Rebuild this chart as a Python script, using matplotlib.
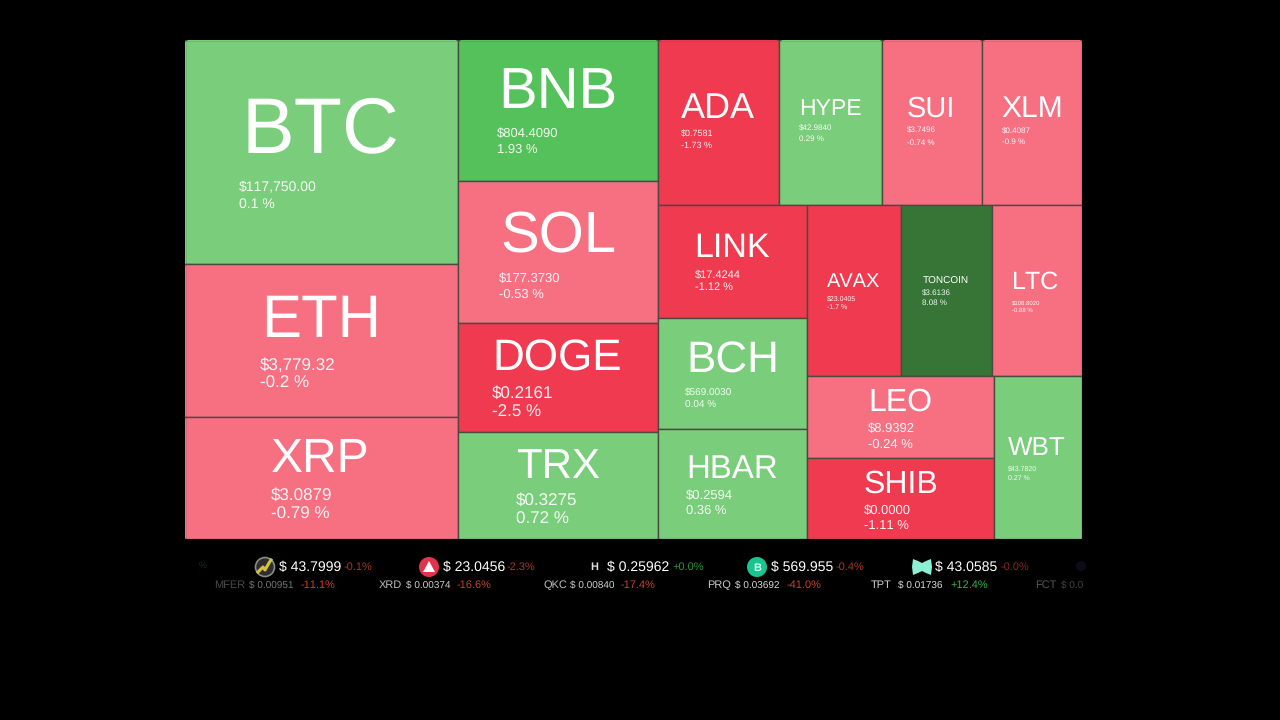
import matplotlib
matplotlib.use("Agg")
import matplotlib.pyplot as plt
from matplotlib.patches import Rectangle, Circle, Polygon

plt.rcParams['font.family'] = ['Liberation Sans', 'DejaVu Sans']
plt.rcParams['text.hinting'] = 'none'
plt.rcParams['text.hinting_factor'] = 1
plt.rcParams['text.kerning_factor'] = 6

# ---------- data ----------
symbols = ["BTC", "ETH", "XRP", "BNB", "SOL", "DOGE", "TRX", "ADA", "HYPE", "SUI", "XLM",
           "LINK", "BCH", "HBAR", "AVAX", "TONCOIN", "LTC", "LEO", "SHIB", "WBT"]
prices = ["$117,750.00", "$3,779.32", "$3.0879", "$804.4090", "$177.3730", "$0.2161", "$0.3275",
          "$0.7581", "$42.9840", "$3.7496", "$0.4087", "$17.4244", "$569.0030", "$0.2594",
          "$23.0405", "$3.6136", "$108.8020", "$8.9392", "$0.0000", "$43.7820"]
changes = [0.1, -0.2, -0.79, 1.93, -0.53, -2.5, 0.72, -1.73, 0.29, -0.74, -0.9,
           -1.12, 0.04, 0.36, -1.7, 8.08, -0.88, -0.24, -1.11, 0.27]
weights = [61152, 41769, 33306, 28200, 28400, 21800, 21400, 19965, 16995, 16500, 16500,
           16837, 16539, 16390, 16074, 15561, 15390, 15334, 15147, 14344]

ticker_prices = ["$ 43.7999", "$ 23.0456", "$ 0.25962", "$ 569.955", "$ 43.0585"]
ticker_changes = ["-0.1%", "-2.3%", "+0.0%", "-0.4%", "-0.0%"]
mover_names = ["MFER", "XRD", "QKC", "PRQ", "TPT", "FCT"]
mover_prices = ["$ 0.00951", "$ 0.00374", "$ 0.00840", "$ 0.03692", "$ 0.01736", "$ 0.0"]
mover_changes = ["-11.1%", "-16.6%", "-17.4%", "-41.0%", "+12.4%", ""]

# ---------- layout tree: (direction, children); h = side by side, v = stacked ----------
TREE = ("h", [
    ("v", ["BTC", "ETH", "XRP"]),
    ("v", ["BNB", "SOL", "DOGE", "TRX"]),
    ("v", [
        ("h", ["ADA", "HYPE", "SUI", "XLM"]),
        ("h", [
            ("v", ["LINK", "BCH", "HBAR"]),
            ("v", [
                ("h", ["AVAX", "TONCOIN", "LTC"]),
                ("h", [("v", ["LEO", "SHIB"]), "WBT"]),
            ]),
        ]),
    ]),
])
weight_of = dict(zip(symbols, weights))


def total(node):
    return weight_of[node] if isinstance(node, str) else sum(total(c) for c in node[1])


def layout(node, x, y, w, h, out):
    if isinstance(node, str):
        out[node] = (x, y, w, h)
        return
    d, kids = node
    t = total(node)
    for k in kids:
        f = total(k) / t
        if d == "h":
            layout(k, x, y, w * f, h, out)
            x += w * f
        else:
            layout(k, x, y, w, h * f, out)
            y += h * f


def tile_colour(c):
    if c >= 5:
        return "#367536"
    if c >= 1:
        return "#55C15A"
    if c >= 0:
        return "#79CD7B"
    if c > -1:
        return "#F67082"
    return "#F03A50"


# ---------- text placement (px): label cx, label cy, label size, text x, price y, pct y, small size ----------
TEXT = {
    "BTC": (321, 124, 79, 239, 186, 203, 14.4),
    "ETH": (321, 316, 60, 260, 364, 382, 17),
    "XRP": (320, 455, 48, 271, 494, 513, 17),
    "BNB": (558, 87, 58, 497, 132, 148, 13.3),
    "SOL": (558, 232, 58, 499, 277, 293, 13.3),
    "DOGE": (557, 355, 44, 492, 392, 411, 16.6),
    "TRX": (558, 463, 42, 516, 499, 518, 17),
    "ADA": (718, 105, 36, 681, 133, 145, 9),
    "HYPE": (830, 107, 23, 799, 128, 138, 8),
    "SUI": (931, 106, 29, 907, 130, 142, 8),
    "XLM": (1032, 106, 30, 1002, 130, 141, 8.5),
    "LINK": (732, 245, 34, 695, 273, 286, 11),
    "BCH": (733, 357, 44, 685, 392, 404, 9.7),
    "HBAR": (732, 466, 33, 686, 494, 509, 13),
    "AVAX": (854, 280, 20, 827, 298, 306, 7),
    "TONCOIN": (946, 280, 10.2, 922, 292, 302, 8.3),
    "LTC": (1036, 280, 25, 1012, 302, 310, 6),
    "LEO": (900, 399, 32, 868, 427, 443, 13.3),
    "SHIB": (901, 481, 32, 864, 509, 524, 13),
    "WBT": (1037, 446, 26, 1008, 468, 477, 7),
}
PX = 0.72  # pixels to points at dpi 100
CAP = 0.358  # half of the cap height, in em


def caps(a, x, yc, s, size, **kw):
    """Place text with its capitals centred on pixel row yc."""
    return a.text(x, yc + CAP * size, s, fontsize=size * PX, va="baseline", **kw)


fig = plt.figure(figsize=(12.8, 7.2), dpi=100, facecolor="black")

# treemap axes
L, T, R, B = 185, 40, 1082, 539
ax = fig.add_axes([L / 1280, 1 - B / 720, (R - L) / 1280, (B - T) / 720])
ax.set_xlim(0, 1)
ax.set_ylim(1, 0)
ax.axis("off")
rects = {}
layout(TREE, 0, 0, 1, 1, rects)
for s, c in zip(symbols, changes):
    x, y, w, h = rects[s]
    ax.add_patch(Rectangle((x, y), w, h, facecolor=tile_colour(c), edgecolor="#4a4a40", linewidth=1.0))
# outer edge of the map carries no border: repaint each tile's outer rim in its own colour
for s, c in zip(symbols, changes):
    x, y, w, h = rects[s]
    col = tile_colour(c)
    if x < 1e-6:
        ax.plot([x, x], [y + 0.002, y + h - 0.002], color=col, lw=1.0, solid_capstyle="butt")
    if y < 1e-6:
        ax.plot([x + 0.002, x + w - 0.002], [y, y], color=col, lw=1.0, solid_capstyle="butt")
    if x + w > 1 - 1e-6:
        ax.plot([1, 1], [y + 0.002, y + h - 0.002], color=col, lw=1.0, solid_capstyle="butt")
    if y + h > 1 - 1e-6:
        ax.plot([x + 0.002, x + w - 0.002], [1, 1], color=col, lw=1.0, solid_capstyle="butt")

# overlay axes in pixel space for text and the ticker
ov = fig.add_axes([0, 0, 1, 1])
ov.set_xlim(0, 1280)
ov.set_ylim(720, 0)
ov.axis("off")
ov.patch.set_alpha(0)

for s, p, c in zip(symbols, prices, changes):
    cx, cy, ls, tx, py, qy, ss = TEXT[s]
    caps(ov, cx, cy, s, ls, color="white", ha="center")
    caps(ov, tx, py, p, ss, color="white", ha="left", alpha=0.93)
    caps(ov, tx, qy, f"{c} %", ss, color="white", ha="left", alpha=0.93)

# ticker row 1
RED = "#C8402E"
GREEN = "#35B04A"
row1_x = [279, 443, 607, 771, 935]
row1_change_x = [344, 507, 672, 836, 1001]
ROW1_BASE, ROW2_BASE = 571, 588
for x, xc, p, c in zip(row1_x, row1_change_x, ticker_prices, ticker_changes):
    ov.text(x, ROW1_BASE, p, fontsize=14.1 * PX, color="white", ha="left", va="baseline")
    ov.text(xc, ROW1_BASE - 1, c, fontsize=10.8 * PX, color=GREEN if c.startswith("+") else RED, ha="left",
            va="baseline", alpha=0.85 if c != "-0.0%" else 0.65)
caps(ov, 203, 565, "%", 9, color="#17302a", ha="center")

# ticker icons
ov.add_patch(Circle((265, 567), 9.5, facecolor="#2e2e2e", edgecolor="#8a8a8a", linewidth=1.2))
ov.plot([258, 263, 265, 269, 271], [572, 567, 570, 563, 560], color="#D6C23C", lw=2.2)
ov.add_patch(Circle((429, 567), 10, facecolor="#E0334C", edgecolor="none"))
ov.add_patch(Polygon([[429, 561], [435, 572], [423, 572]], closed=True, facecolor="white", edgecolor="none"))
caps(ov, 594, 566, "H", 11, color="#dddddd", ha="center", fontweight="bold")
ov.add_patch(Circle((757, 567), 10, facecolor="#19C58E", edgecolor="none"))
caps(ov, 757, 567, "B", 11, color="#E6FFF5", ha="center", fontweight="bold")
ov.add_patch(Polygon([[913, 559], [918, 561], [922, 563], [926, 561], [931, 559], [932, 567],
                      [931, 575], [926, 573], [922, 571], [918, 573], [913, 575], [912, 567]],
                     closed=True, facecolor="#8CF0D4", edgecolor="none"))
ov.add_patch(Circle((1081, 566), 5, facecolor="#0c0c18", edgecolor="none"))

# ticker row 2
row2_name_x = [214, 379, 543, 707, 871, 1035]
row2_price_x = [249, 406, 570, 735, 898, 1061]
row2_change_x = [301, 457, 621, 787, 950, 1110]
row2_name_col = ["#4a4a4a", "#bcbcbc", "#bcbcbc", "#c8c8c8", "#d0d0d0", "#555555"]
row2_price_col = ["#777777", "#cfcfcf", "#cfcfcf", "#d8d8d8", "#dddddd", "#444444"]
for n, p, c, xn, xp, xc, cn, cp in zip(mover_names, mover_prices, mover_changes, row2_name_x,
                                        row2_price_x, row2_change_x, row2_name_col, row2_price_col):
    ov.text(xn, ROW2_BASE, n, fontsize=11 * PX, color=cn, ha="left", va="baseline")
    ov.text(xp, ROW2_BASE, p, fontsize=10.4 * PX, color=cp, ha="left", va="baseline")
    if c:
        ov.text(xc, ROW2_BASE, c, fontsize=10.8 * PX, color=GREEN if c.startswith("+") else RED,
                ha="left", va="baseline")

fig.savefig("out.png", dpi=100, facecolor="black")
